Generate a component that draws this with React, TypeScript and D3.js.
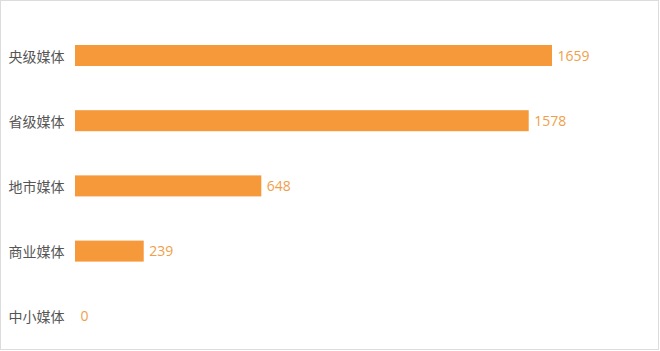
import React from "react";
import * as d3 from "d3";

const categories = ["央级媒体", "省级媒体", "地市媒体", "商业媒体", "中小媒体"];
const values = [1659, 1578, 648, 239, 0];

const W = 660;
const H = 351;

export default function App() {
  const x = d3.scaleLinear().domain([0, 1659]).range([75, 552]);
  const y = d3.scalePoint().domain(categories).range([55.5, 316.3]);
  const bh = 21;
  return (
    <div style={{ position: "fixed", left: 0, top: 0 }}>
      <svg width={W} height={H} style={{ display: "block" }}>
        <rect x={0.5} y={0.5} width={658} height={349} fill="#fff" stroke="#dcdcdc" />
        {categories.map((c, i) => {
          const cy = y(c) as number;
          return (
            <g key={c}>
              <text
                x={64.5}
                y={cy}
                textAnchor="end"
                dominantBaseline="central"
                fontFamily="'Noto Sans CJK SC', sans-serif"
                fontSize={14}
                fill="#555"
              >
                {c}
              </text>
              {values[i] > 0 && (
                <rect x={x(0)} y={cy - bh / 2} width={x(values[i]) - x(0)} height={bh} fill="#f5993a" />
              )}
              <text
                x={x(values[i]) + 5.5}
                y={cy - 0.5}
                dominantBaseline="central"
                fontFamily="'Open Sans', 'Noto Sans', sans-serif"
                fontSize={14}
                fill="#f0a04b"
              >
                {values[i]}
              </text>
            </g>
          );
        })}
      </svg>
    </div>
  );
}
